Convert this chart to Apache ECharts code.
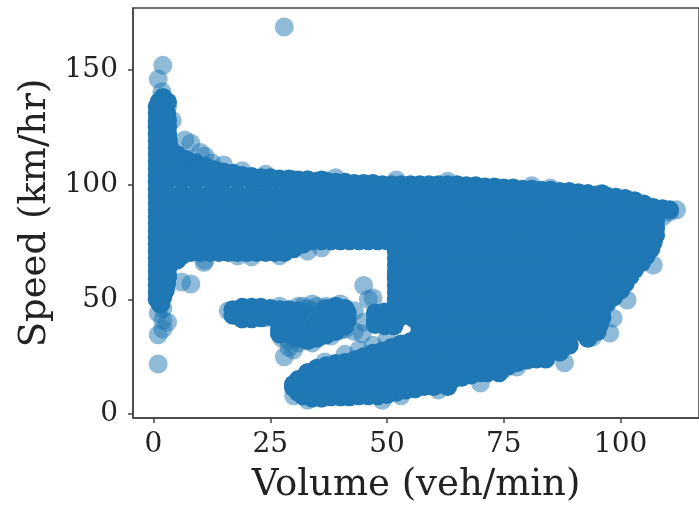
<!DOCTYPE html>
<html>
<head>
<meta charset="utf-8">
<style>html,body{margin:0;padding:0;background:#fff}#main{width:699px;height:506px}</style>
<script src="https://cdn.jsdelivr.net/npm/echarts@6/dist/echarts.min.js"></script>
</head>
<body>
<div id="main"></div>
<script>
var xTicks = [0, 25, 50, 75, 100];
var yTicks = [0, 50, 100, 150];

// speed of each row inside the cloud, with the volumes read along that row
var rowSpeeds = [126, 120, 114, 108, 102, 96, 90, 84, 78, 72, 66, 60, 54, 48, 42, 36, 30, 24, 18, 12, 9];
var rowVolumes = [
    [1, 2.5],
    [1, 3],
    [1, 3],
    [1, 3, 5],
    [1, 3, 6, 9, 12, 15, 18, 21, 24, 27, 30, 33, 36],
    [1, 3, 6, 9, 12, 15, 18, 21, 24, 27, 30, 33, 36, 39, 42, 45, 48, 51, 54, 57, 60, 63, 66, 69, 72, 75, 78, 81, 84, 87, 90, 93, 96],
    [1, 4.5, 7.5, 10.5, 13.5, 16.5, 19.5, 22.5, 25.5, 28.5, 31.5, 34.5, 37.5, 40.5, 43.5, 46.5, 49.5, 52.5, 55.5, 58.5, 61.5, 64.5, 67.5, 70.5, 73.5, 76.5, 79.5, 82.5, 85.5, 88.5, 91.5, 94.5, 97.5, 100.5, 103.5, 106],
    [1, 3, 6, 9, 12, 15, 18, 21, 24, 27, 30, 33, 36, 39, 42, 45, 48, 51, 54, 57, 60, 63, 66, 69, 72, 75, 78, 81, 84, 87, 90, 93, 96, 99, 102, 105, 107],
    [1, 4.5, 7.5, 10.5, 13.5, 16.5, 19.5, 22.5, 25.5, 28.5, 31.5, 34.5, 37.5, 40.5, 43.5, 46.5, 49.5, 52.5, 55.5, 58.5, 61.5, 64.5, 67.5, 70.5, 73.5, 76.5, 79.5, 82.5, 85.5, 88.5, 91.5, 94.5, 97.5, 100.5, 103.5, 106.5],
    [1, 3, 6, 9, 12, 15, 18, 21, 24, 27, 52, 54, 57, 60, 63, 66, 69, 72, 75, 78, 81, 84, 87, 90, 93, 96, 99, 102, 105],
    [1, 3.5, 52.5, 55.5, 58.5, 61.5, 64.5, 67.5, 70.5, 73.5, 76.5, 79.5, 82.5, 85.5, 88.5, 91.5, 94.5, 97.5, 100.5, 103],
    [1, 3, 52, 54, 57, 60, 63, 66, 69, 72, 75, 78, 81, 84, 87, 90, 93, 96, 99, 101],
    [1, 2.5, 52.5, 55.5, 58.5, 61.5, 64.5, 67.5, 70.5, 73.5, 76.5, 79.5, 82.5, 85.5, 88.5, 91.5, 94.5, 97.5, 99],
    [1.5, 52, 54, 57, 60, 63, 66, 69, 72, 75, 78, 81, 84, 87, 90, 93, 96],
    [52.5, 55.5, 58.5, 61.5, 64.5, 67.5, 70.5, 73.5, 76.5, 79.5, 82.5, 85.5, 88.5, 91.5, 94.5],
    [59, 61, 64, 67, 70, 73, 76, 79, 82, 85, 88, 91, 94],
    [56, 58.5, 61.5, 64.5, 67.5, 70.5, 73.5, 76.5, 79.5, 82.5, 85.5, 88.5],
    [44, 46, 49, 52, 55, 58, 61, 64, 67, 70, 73, 76, 79, 82, 84],
    [33, 35.5, 38.5, 41.5, 44.5, 47.5, 50.5, 53.5, 56.5, 59.5, 62.5, 65.5, 68.5, 71.5, 74],
    [30, 33, 36, 39, 42, 45, 48, 51, 54, 57, 60, 63],
    [32, 35, 38, 41, 44, 47, 50]
];

// outer boundary of the cloud, read going round it
var columnEdge = [
    [2, 138], [1.2, 136], [3, 136],
    [0.8, 134], [0.8, 131], [0.8, 128], [0.8, 125], [0.8, 122], [0.8, 119], [0.8, 116], [0.8, 113], [0.8, 110], [0.8, 107],
    [0.8, 104], [0.8, 101], [0.8, 98], [0.8, 95], [0.8, 92], [0.8, 89], [0.8, 86], [0.8, 83], [0.8, 80], [0.8, 77],
    [0.8, 74], [0.8, 71], [0.8, 68], [0.8, 65], [0.8, 62], [0.8, 59], [0.8, 56], [0.8, 53], [0.8, 50],
    [2.5, 134], [2.8, 131], [3, 128], [3, 125], [3, 122], [3.2, 119], [3.5, 116], [3.8, 113],
    [4, 69], [3.5, 66], [3, 63], [3, 60], [2.8, 57], [2.5, 54], [2, 51], [1.5, 48]
];
var topEdge = [
    [5, 113], [7, 111], [9, 109.5], [11, 108], [13, 106.5], [15, 105.5], [17, 105], [19, 104], [21, 103.5], [23, 103],
    [25, 103], [27, 102.5], [29, 102.5], [31, 102], [33, 102], [35, 101.5], [37, 101.5], [39, 101], [41, 101], [43, 100.5],
    [45, 100.5], [47, 100.5], [49, 100], [51, 100], [53, 100], [55, 100], [57, 100], [59, 100], [61, 100], [63, 100],
    [65, 100], [67, 99.5], [69, 99.5], [71, 99], [73, 99], [75, 98.5], [77, 98.5], [79, 98], [81, 98], [83, 97.5],
    [85, 97.5], [87, 97], [89, 97], [91, 96.5], [93, 96], [95, 95.5], [97, 95], [99, 94.5], [101, 94], [103, 93],
    [105, 91.5], [107, 90], [109, 89.5], [110.5, 89],
    [7, 106], [9, 105.5], [11, 104], [14, 102]
];
var rightEdge = [
    [107.5, 87], [107.5, 84], [107.5, 81], [107.5, 78], [107, 75], [106.5, 72], [105.5, 69], [104.5, 66], [103, 63], [102, 60],
    [101, 57], [100, 54], [98.5, 51], [97, 48], [96, 45], [96, 42], [95.5, 39], [95, 36], [93, 33], [89, 30],
    [87, 27], [84, 26]
];
var lowerEdge = [
    [82, 25], [80, 23.5], [78, 22.5], [76, 21], [74, 20], [72, 19], [70, 18], [68, 17], [66, 16], [64, 15],
    [62, 14], [60, 13], [58, 12], [56, 11], [54, 10.5], [52, 9.5], [50, 8.5], [48, 8], [46, 8], [44, 8],
    [42, 7.5], [40, 7.5], [38, 7.5], [36, 7], [34, 7], [32, 8], [31, 9.5], [30, 11.5], [30, 13]
];
var lobeTopEdge = [
    [31, 15], [33, 18], [35, 20], [37, 21], [39, 22], [41, 22.5], [43, 23.5], [45, 25], [47, 26.5], [49, 27.5],
    [51, 29], [53, 30.5], [55, 31.5], [56.5, 33.5], [57, 38]
];
// underside of the band and left side of the right hand mass
var bandEdge = [
    [5, 67], [6, 69], [8, 70.4], [10, 70.4], [12, 70.4], [14, 70.4], [16, 70.4], [18, 70.4], [20, 70.4], [22, 70.4],
    [24, 70.4], [26, 70.4], [28, 70.4], [30, 72], [32, 74], [34, 75.5], [36, 75.5], [38, 75.5], [40, 75.5], [42, 75.5],
    [44, 75.5], [46, 75.5], [48, 75.5], [50, 75.5], [52, 74], [52, 71], [52, 68], [52, 65], [52, 62], [52, 59],
    [52, 56], [52, 53], [52, 50], [52, 47], [52, 44], [52, 41]
];
// the smaller cluster in the middle
var midCluster = [
    [17, 45.5], [19, 46.5], [21, 46.5], [23, 46.5], [25, 46], [27, 45.5], [29, 45.5], [31, 45],
    [17, 43], [19, 41.5], [21, 41.5], [23, 42], [25, 42.5], [27, 43], [29, 42], [20, 44], [23, 44], [26, 44],
    [37, 46], [39, 47], [41, 46], [41.5, 44], [41.5, 41], [41, 38.5], [39, 36], [37, 34.5], [35, 33], [33, 32], [31, 33],
    [27, 37], [27, 35], [29, 38], [29, 35], [31, 37], [31, 34], [33, 37], [33, 34], [35, 37], [35, 34],
    [37, 40], [39, 44], [39, 40], [37, 43], [35, 40], [31, 40],
    [47.5, 44], [47.5, 41], [47.5, 39], [49.5, 44.5], [49.5, 38.5], [51.5, 45], [51.5, 38.5], [49.5, 41.5]
];
// single translucent circles standing out of the cloud
var edgePoints = [
    [28, 168.7], [2, 152], [1, 146], [1.8, 140.5], [3, 134], [4, 128], [6.7, 119.5], [8, 118], [10, 114], [11, 112.5],
    [12.5, 109.5], [15, 108.6], [19, 106], [24, 104.5], [39, 103], [52, 102], [63, 101.5], [81, 99.5], [85, 98.5],
    [112, 89], [110.5, 88], [109, 86], [107, 65], [101.4, 49.7], [98.4, 41.8], [97.7, 35.3], [94, 33.6], [88, 22.3],
    [77.8, 20.5], [75, 19.5], [70, 13.5], [61, 10.5], [53, 8], [49, 6], [41, 7.5], [33, 6], [30, 8], [36, 7],
    [1, 34.5], [2, 37], [3, 40], [1, 44], [2, 46], [2, 41], [1, 21.8],
    [6, 57.5], [8, 56.7], [10.8, 66], [11, 67], [18, 69], [21, 68.5], [27, 69], [33, 71], [36, 72.5],
    [45, 56], [46, 50], [47, 50.6], [44.7, 35], [43, 36], [45, 40],
    [16, 45], [19, 41.5], [24, 42], [27, 47], [34, 48], [31, 47], [37, 47], [30, 42], [33, 44], [36, 45],
    [31, 43], [33, 46], [35, 43], [32, 47], [34, 45], [35, 47], [32, 42], [36, 42],
    [28, 40], [32, 40], [36, 34], [34, 31], [30, 33], [38, 34], [41, 37], [40, 36.5], [43, 45], [40, 48],
    [28, 25], [29, 29], [30, 28], [27, 35], [31, 31], [29, 32], [27.5, 33],
    [36.7, 22.7], [41, 26], [44, 28], [47, 30], [50, 32.5]
];

var densePoints = columnEdge.concat(topEdge, rightEdge, lowerEdge, lobeTopEdge, bandEdge, midCluster);
rowSpeeds.forEach(function (speed, i) {
    rowVolumes[i].forEach(function (volume) {
        densePoints.push([volume, speed]);
    });
});

var textColor = '#222';
var lineColor = '#444';

function axisBase(name, ticks, gap, lo, hi, margin) {
    return {
        type: 'value',
        name: name,
        nameLocation: 'middle',
        nameGap: gap,
        nameTextStyle: { fontFamily: 'DejaVu Serif', fontSize: 37, color: textColor },
        min: lo,
        max: hi,
        splitLine: { show: false },
        axisLine: { show: true, onZero: false, lineStyle: { color: lineColor, width: 1.5 } },
        axisTick: { show: true, length: 5, customValues: ticks, lineStyle: { color: lineColor, width: 1.5 } },
        axisLabel: { customValues: ticks, margin: margin, fontFamily: 'DejaVu Serif', fontSize: 28, color: textColor }
    };
}

var xAxis = axisBase('Volume (veh/min)', xTicks, 49, -4.39, 116.8, 13);
var yAxis = axisBase('Speed (km/hr)', yTicks, 76, -1.74, 177, 15);
yAxis.axisLabel.padding = [9, 0, 0, 0];

var option = {
    animation: false,
    grid: { show: true, left: 133, top: 8, width: 566, height: 410, outerBoundsMode: 'none', borderColor: lineColor, borderWidth: 1.5 },
    xAxis: xAxis,
    yAxis: yAxis,
    series: [{
        name: 'edge',
        type: 'scatter',
        symbolSize: 19,
        itemStyle: { color: '#1f77b4', opacity: 0.5 },
        data: edgePoints
    }, {
        name: 'dense',
        type: 'scatter',
        symbolSize: 19,
        itemStyle: { color: '#1f77b4', opacity: 1 },
        data: densePoints
    }]
};
var myChart = echarts.init(document.getElementById('main'));
myChart.setOption(option);
</script>
</body>
</html>
